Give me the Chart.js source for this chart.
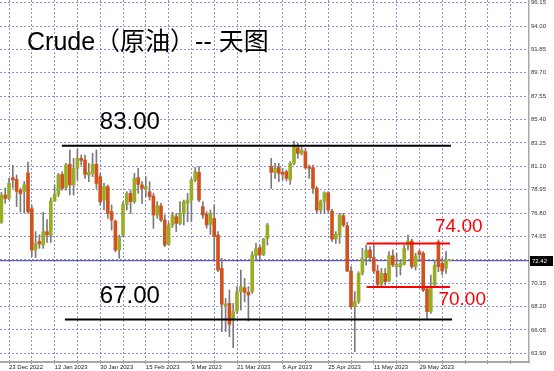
<!DOCTYPE html>
<html>
<head>
<meta charset="utf-8">
<script src="https://cdn.jsdelivr.net/npm/chart.js@4.4.1/dist/chart.umd.min.js"></script>
<style>
  html, body { margin: 0; padding: 0; background: #ffffff; overflow: hidden; }
  canvas { display: block; }
</style>
</head>
<body>
<canvas id="chart" width="554" height="371"></canvas>
<script>
// Daily crude oil candles, 21 Dec 2022 .. 8 Jun 2023 (one entry per trading day)
const open = [
  75.95, 78.46, 78.15, 80.05, 79.90, 78.90, 78.80, 80.50, 77.20, 73.40,
  74.20, 73.86, 75.09, 74.78, 77.91, 78.52, 80.36, 79.14, 81.28, 79.38,
  80.91, 81.83, 81.68, 80.30, 80.45, 81.28, 80.15, 78.00, 79.23, 76.93,
  76.07, 73.40, 74.78, 77.60, 78.61, 77.85, 80.06, 79.38, 79.01, 78.77,
  78.37, 76.62, 77.45, 76.16, 73.92, 75.70, 76.47, 75.85, 76.77, 77.69,
  78.00, 79.84, 80.55, 77.39, 76.68, 75.76, 76.31, 74.78, 71.71, 68.28,
  68.50, 66.96, 67.79, 69.57, 69.94, 69.51, 69.57, 72.88, 73.62, 73.00,
  74.47, 81.07, 80.55, 81.00, 80.55, 80.61, 79.84, 81.37, 82.81, 82.29,
  82.45, 81.07, 80.97, 79.07, 77.08, 77.91, 78.67, 76.99, 74.41, 74.78,
  76.56, 75.64, 71.47, 68.19, 68.65, 71.25, 72.70, 73.40, 72.70, 71.47,
  70.24, 71.25, 70.55, 72.88, 71.87, 71.87, 72.08, 73.86, 74.23, 71.87,
  73.25, 73.10, 69.81, 67.73, 70.18, 74.17, 72.17, 71.71, 72.42
];
const high = [
  78.70, 79.10, 80.00, 81.20, 80.30, 79.10, 79.70, 81.50, 77.50, 75.10,
  74.80, 76.87, 76.20, 78.20, 79.40, 80.45, 80.60, 81.37, 82.60, 81.83,
  82.69, 82.14, 82.14, 81.37, 82.29, 82.60, 80.45, 79.53, 79.38, 77.54,
  76.16, 74.78, 77.85, 78.77, 78.92, 80.45, 80.91, 79.69, 80.15, 79.69,
  78.61, 77.85, 77.69, 76.62, 75.95, 76.87, 76.77, 77.85, 78.00, 78.61,
  79.99, 81.00, 81.07, 77.85, 76.93, 77.08, 77.54, 75.09, 72.63, 68.95,
  69.72, 68.49, 70.03, 71.56, 70.79, 70.03, 73.25, 74.01, 73.86, 74.47,
  75.85, 81.83, 81.37, 81.37, 80.91, 80.76, 81.53, 83.43, 83.21, 82.91,
  82.75, 81.22, 81.22, 79.23, 78.00, 78.77, 78.77, 77.17, 75.09, 76.77,
  76.77, 75.95, 71.87, 69.57, 71.40, 73.55, 73.86, 73.71, 73.86, 72.02,
  71.71, 71.71, 73.25, 73.40, 73.10, 72.48, 73.86, 74.78, 74.41, 73.10,
  73.40, 73.25, 70.03, 71.10, 72.39, 74.33, 72.63, 73.25, 72.48
];
const low = [
  75.85, 77.70, 78.00, 79.10, 77.40, 76.90, 76.80, 76.80, 72.80, 72.70,
  73.55, 73.55, 74.10, 74.10, 77.85, 78.30, 78.90, 78.90, 78.46, 78.46,
  79.84, 81.22, 79.99, 79.69, 80.15, 79.07, 77.54, 77.08, 76.31, 75.24,
  73.25, 72.63, 74.63, 77.08, 76.77, 77.69, 78.61, 77.69, 78.31, 78.00,
  75.40, 76.31, 76.00, 73.71, 73.86, 75.46, 75.09, 75.70, 75.70, 76.00,
  76.00, 79.69, 77.85, 76.31, 75.40, 74.84, 72.48, 71.40, 65.89, 65.89,
  65.43, 64.42, 67.57, 67.88, 68.65, 66.87, 69.41, 72.39, 72.48, 72.88,
  73.86, 79.07, 79.99, 79.69, 79.84, 79.75, 79.44, 81.22, 81.83, 82.14,
  80.85, 79.99, 78.61, 76.77, 76.77, 76.77, 76.77, 74.17, 74.01, 74.01,
  75.55, 71.40, 68.03, 64.05, 68.49, 71.10, 72.02, 72.33, 71.25, 70.03,
  70.03, 70.18, 70.49, 71.87, 70.95, 71.10, 72.02, 73.40, 71.71, 71.56,
  72.33, 69.57, 67.12, 67.57, 70.03, 71.40, 71.10, 71.25, 72.40
];
const close = [
  78.45, 78.15, 79.53, 79.85, 78.80, 78.60, 79.40, 76.90, 73.40, 74.00,
  73.95, 75.09, 74.78, 77.91, 78.52, 80.30, 79.07, 81.22, 79.38, 80.91,
  81.83, 81.65, 80.36, 80.55, 81.30, 79.53, 77.85, 79.23, 76.77, 76.16,
  73.40, 74.54, 77.60, 78.61, 77.85, 79.99, 79.44, 79.07, 79.23, 78.31,
  76.62, 77.48, 76.16, 73.86, 75.70, 76.62, 75.85, 76.77, 77.85, 78.00,
  79.84, 80.61, 78.00, 76.62, 75.70, 76.77, 74.63, 71.56, 68.40, 68.43,
  66.56, 67.73, 69.57, 70.03, 69.51, 69.26, 72.94, 73.55, 72.94, 74.41,
  75.70, 80.55, 80.91, 80.45, 80.36, 79.99, 81.37, 83.06, 82.29, 82.60,
  80.97, 80.91, 79.07, 77.08, 77.91, 78.67, 77.08, 74.41, 74.84, 76.62,
  75.70, 71.47, 68.19, 68.65, 71.25, 72.63, 73.40, 72.70, 71.47, 70.24,
  71.25, 70.49, 72.88, 72.02, 72.08, 72.17, 73.55, 74.23, 71.87, 72.88,
  73.00, 69.72, 67.73, 70.03, 72.02, 71.87, 71.47, 72.48, 72.42
];

// Date labels on the time axis, one every 12 trading days starting at bar 2
const tickLabels = [
  '23 Dec 2022', '12 Jan 2023', '30 Jan 2023', '15 Feb 2023', '3 Mar 2023',
  '21 Mar 2023', '6 Apr 2023', '25 Apr 2023', '11 May 2023', '29 May 2023'
];
// Price ticks on the right axis
const priceTicks = [
  63.90, 66.05, 68.20, 70.35, 72.50, 74.65, 76.80, 78.95,
  81.10, 83.25, 85.40, 87.55, 89.70, 91.85, 94.00, 96.15
];

// Support / resistance levels marked on the chart
const resistance = 83.00;
const support = 67.00;
const rangeTop = 74.00;
const rangeBottom = 70.00;

const titleText = 'Crude（原油）-- 天图';

// ---- layout / styling ----
const X_MIN = -0.37, X_MAX = 138.84;
const Y_MIN = 63.10, Y_MAX = 96.40;
const UP = '#98ad22', DOWN = '#d2521d', WICK = '#7a7a7a';
const GRID = 'rgba(95, 95, 205, 0.7)';

const levels = [
  { value: resistance, from: 15.9, to: 118.3, color: '#000000', width: 2,
    font: '24px "Liberation Sans", Arial, sans-serif', labelAt: 25.9, labelDy: -16.5 },
  { value: support, from: 16.7, to: 118.6, color: '#000000', width: 2,
    font: '24px "Liberation Sans", Arial, sans-serif', labelAt: 25.9, labelDy: -16.5 },
  { value: rangeTop, from: 96.1, to: 118.05, color: '#ff0000', width: 2,
    font: '19px "Liberation Sans", Arial, sans-serif', labelAt: 114.1, labelDy: -12 },
  { value: rangeBottom, from: 96.1, to: 118.05, color: '#ff0000', width: 2,
    font: '19px "Liberation Sans", Arial, sans-serif', labelAt: 115.0, labelDy: 18 }
];

const lastPrice = close[close.length - 1];

const wicks = high.map((h, i) => ({ x: i, y: [low[i], h] }));
const bodies = open.map((o, i) => ({ x: i, y: [Math.min(o, close[i]), Math.max(o, close[i])] }));
const bodyColors = open.map((o, i) => (close[i] >= o ? UP : DOWN));

const levelDatasets = levels.map(l => ({
  type: 'line',
  data: [{ x: l.from, y: l.value }, { x: l.to, y: l.value }],
  borderColor: l.color,
  borderWidth: l.width,
  pointRadius: 0,
  fill: false,
  order: 1
}));

const annotations = {
  id: 'annotations',
  afterDatasetsDraw(chart) {
    const { ctx, chartArea, scales: { x, y } } = chart;
    ctx.save();
    ctx.textBaseline = 'alphabetic';
    ctx.textAlign = 'left';
    ctx.fillStyle = '#000000';
    ctx.font = '25px "Liberation Sans", "Noto Sans CJK SC", sans-serif';
    ctx.fillText(titleText, chartArea.left + 27, chartArea.top + 50);

    levels.forEach(l => {
      ctx.font = l.font;
      ctx.fillStyle = l.color;
      ctx.fillText(l.value.toFixed(2), x.getPixelForValue(l.labelAt),
        y.getPixelForValue(l.value) + l.labelDy);
    });

    // last price tag on the price axis
    const py = Math.round(y.getPixelForValue(lastPrice));
    ctx.fillStyle = '#000000';
    ctx.fillRect(chartArea.right + 1, py - 5, 23, 10);
    ctx.fillStyle = '#ffffff';
    ctx.font = '6px "Liberation Sans", Arial, sans-serif';
    ctx.textBaseline = 'middle';
    ctx.fillText(lastPrice.toFixed(2), chartArea.right + 3, py + 0.5);
    ctx.restore();
  }
};

new Chart(document.getElementById('chart'), {
  type: 'bar',
  data: {
    datasets: [
      {
        type: 'line',
        data: [{ x: X_MIN, y: lastPrice }, { x: X_MAX, y: lastPrice }],
        borderColor: '#3a3aae',
        borderWidth: 1,
        pointRadius: 0,
        order: 10
      },
      {
        data: wicks,
        backgroundColor: WICK,
        barThickness: 1,
        grouped: false,
        order: 9
      },
      {
        data: bodies,
        backgroundColor: bodyColors,
        barThickness: 3,
        minBarLength: 1,
        grouped: false,
        order: 8
      },
      ...levelDatasets
    ]
  },
  options: {
    responsive: false,
    animation: false,
    devicePixelRatio: 1,
    layout: { padding: 0, autoPadding: false },
    plugins: { legend: { display: false }, tooltip: { enabled: false } },
    scales: {
      x: {
        type: 'linear',
        min: X_MIN,
        max: X_MAX,
        offset: false,
        grid: { offset: false, color: GRID, lineWidth: 1, drawTicks: true, tickLength: 2, tickColor: '#9a9a9a' },
        border: { display: true, color: '#a8a8a8', width: 2, dash: [2, 2] },
        afterBuildTicks(scale) {
          const t = [];
          for (let v = 2; v <= X_MAX; v += 6) t.push({ value: v });
          scale.ticks = t;
        },
        afterFit(scale) {
          scale.height = 9;
          scale.paddingLeft = 0;
          scale.paddingRight = 0;
        },
        ticks: {
          autoSkip: false,
          maxRotation: 0,
          minRotation: 0,
          align: 'start',
          padding: 0,
          color: '#222222',
          font: { family: '"Liberation Sans Narrow", "Liberation Sans", Arial, sans-serif', size: 6 },
          callback(value) {
            const k = (value - 2) / 12;
            return Number.isInteger(k) && tickLabels[k] ? tickLabels[k] : '';
          }
        }
      },
      y: {
        position: 'right',
        min: Y_MIN,
        max: Y_MAX,
        grid: { color: GRID, lineWidth: 1, drawTicks: false },
        border: { display: true, color: '#a8a8a8', width: 1.5, dash: [2, 2] },
        afterBuildTicks(scale) {
          scale.ticks = priceTicks.map(v => ({ value: v }));
        },
        afterFit(scale) {
          scale.width = 25;
          scale.paddingTop = 0;
          scale.paddingBottom = 0;
        },
        ticks: {
          autoSkip: false,
          padding: 2,
          color: '#333333',
          font: { family: '"Liberation Sans", Arial, sans-serif', size: 6 },
          callback(value) { return Number(value).toFixed(2); }
        }
      }
    }
  },
  plugins: [annotations]
});
</script>
</body>
</html>
